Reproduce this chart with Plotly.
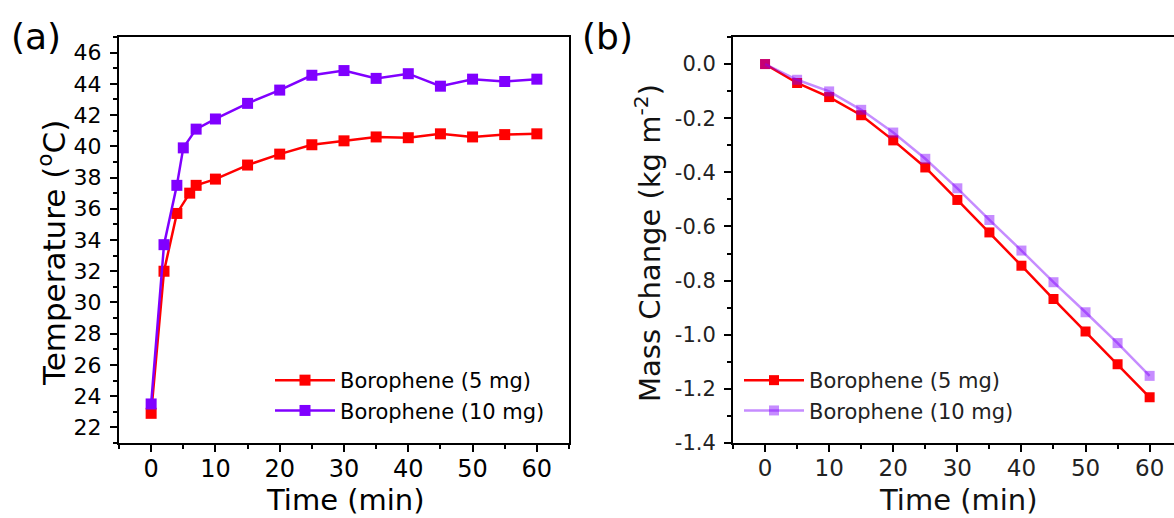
import plotly.graph_objects as go

# ---------------- data ----------------
time_5mg_a = [0, 2, 4, 6, 7, 10, 15, 20, 25, 30, 35, 40, 45, 50, 55, 60]
temp_5mg = [22.9, 32.0, 35.7, 37.0, 37.5, 37.9, 38.8, 39.5, 40.1, 40.35, 40.6, 40.55, 40.8, 40.6, 40.75, 40.8]
time_10mg_a = [0, 2, 4, 5, 7, 10, 15, 20, 25, 30, 35, 40, 45, 50, 55, 60]
temp_10mg = [23.5, 33.7, 37.5, 39.9, 41.1, 41.75, 42.75, 43.6, 44.55, 44.85, 44.35, 44.65, 43.85, 44.3, 44.15, 44.3]

time_b = [0, 5, 10, 15, 20, 25, 30, 35, 40, 45, 50, 55, 60]
mass_5mg = [0.0, -0.070, -0.122, -0.189, -0.282, -0.382, -0.502, -0.622, -0.745, -0.868, -0.988, -1.109, -1.231]
mass_10mg = [0.0, -0.058, -0.101, -0.169, -0.253, -0.350, -0.459, -0.576, -0.689, -0.806, -0.917, -1.031, -1.152]

series_names = ["Borophene (5 mg)", "Borophene (10 mg)"]
yticks_a = [22, 24, 26, 28, 30, 32, 34, 36, 38, 40, 42, 44, 46]
yticks_b = [0.0, -0.2, -0.4, -0.6, -0.8, -1.0, -1.2, -1.4]
yticktext_b = ["0.0", "-0.2", "-0.4", "-0.6", "-0.8", "-1.0", "-1.2", "-1.4"]
xticks = [0, 10, 20, 30, 40, 50, 60]

RED = "#FF0000"
PURPLE = "#8000FF"
PURPLE_T = "rgba(128,0,255,0.45)"
FONT = "DejaVu Sans, Liberation Sans, sans-serif"

fig = go.Figure()

fig.add_trace(go.Scatter(x=time_5mg_a, y=temp_5mg, name=series_names[0], mode="lines+markers",
                         line=dict(color=RED, width=2.5), marker=dict(symbol="square", size=11, color=RED),
                         xaxis="x", yaxis="y", legend="legend"))
fig.add_trace(go.Scatter(x=time_10mg_a, y=temp_10mg, name=series_names[1], mode="lines+markers",
                         line=dict(color=PURPLE, width=2.5), marker=dict(symbol="square", size=11, color=PURPLE),
                         xaxis="x", yaxis="y", legend="legend"))
fig.add_trace(go.Scatter(x=time_b, y=mass_5mg, name=series_names[0], mode="lines+markers",
                         line=dict(color=RED, width=2.5), marker=dict(symbol="square", size=10, color=RED),
                         xaxis="x2", yaxis="y2", legend="legend2"))
fig.add_trace(go.Scatter(x=time_b, y=mass_10mg, name=series_names[1], mode="lines+markers",
                         line=dict(color=PURPLE_T, width=2.5), marker=dict(symbol="square", size=10, color=PURPLE_T),
                         xaxis="x2", yaxis="y2", legend="legend2"))

W, H = 1174, 518
def px(xp):
    return xp / W
def py(yp):
    return 1 - yp / H

axis_common = dict(showline=True, linecolor="black", linewidth=2, mirror=True, showgrid=False,
                   zeroline=False, ticks="outside", ticklen=7, tickwidth=2, tickcolor="black",
                   automargin=False)
minor_common = dict(ticks="outside", ticklen=4, tickwidth=2, tickcolor="black")

fig.update_layout(
    width=W, height=H,
    margin=dict(l=0, r=0, t=0, b=0, pad=0, autoexpand=False),
    paper_bgcolor="white", plot_bgcolor="white",
    font=dict(family=FONT, color="black"),
    xaxis=dict(domain=[px(119), px(569)], range=[-5, 65], tickvals=xticks,
               tickfont=dict(size=24), anchor="y", ticklabelstandoff=-4,
               minor=dict(dtick=5, tick0=0, **minor_common), **axis_common),
    yaxis=dict(domain=[py(443), py(37)], range=[21, 47], tickvals=yticks_a,
               tickfont=dict(size=22), anchor="x", ticklabelstandoff=4,
               minor=dict(dtick=1, tick0=0, **minor_common), **axis_common),
    xaxis2=dict(domain=[px(733), 1.0], range=[-5, 63.8], tickvals=xticks,
                tickfont=dict(size=23, color="#222"), anchor="y2", ticklabelstandoff=-4,
                minor=dict(dtick=5, tick0=0, **minor_common), **axis_common),
    yaxis2=dict(domain=[py(443), py(37)], range=[-1.4, 0.1], tickvals=yticks_b, ticktext=yticktext_b,
                tickfont=dict(size=21, color="#222"), anchor="x2", ticklabelstandoff=4,
                minor=dict(dtick=0.1, tick0=0, **minor_common), **axis_common),
    legend=dict(x=px(270), y=py(360), xanchor="left", yanchor="top", bgcolor="rgba(0,0,0,0)",
                font=dict(size=21), itemwidth=60, tracegroupgap=0),
    legend2=dict(x=px(739), y=py(360), xanchor="left", yanchor="top", bgcolor="rgba(0,0,0,0)",
                 font=dict(size=21, color="#222"), itemwidth=60, tracegroupgap=0),
    showlegend=True,
)

annotations = [
    dict(text="(a)", x=px(36), y=py(37), font=dict(size=36)),
    dict(text="(b)", x=px(607), y=py(37), font=dict(size=36)),
    dict(text="Time (min)", x=px(345), y=py(500), font=dict(size=29)),
    dict(text="Time (min)", x=px(958), y=py(500), font=dict(size=29, color="#111")),
    dict(text="Temperature (<sup>o</sup>C)", x=px(52), y=py(253), font=dict(size=31), textangle=-90),
    dict(text="Mass Change (kg m<sup>-2</sup>)", x=px(648), y=py(243), font=dict(size=29, color="#111"), textangle=-90),
]
for a in annotations:
    fig.add_annotation(xref="paper", yref="paper", showarrow=False, xanchor="center", yanchor="middle", **a)

# pin the figure to the top-left corner of the page (no default body margin / scrolling)
pin_js = (
    "document.documentElement.style.margin='0';"
    "document.body.style.margin='0';"
    "document.body.style.overflow='hidden';"
    "var g=document.querySelector('.plotly-graph-div');"
    "g.style.position='fixed';g.style.left='0px';g.style.top='0px';"
)

fig.write_html("out.html", post_script=pin_js, config={"displayModeBar": False})
